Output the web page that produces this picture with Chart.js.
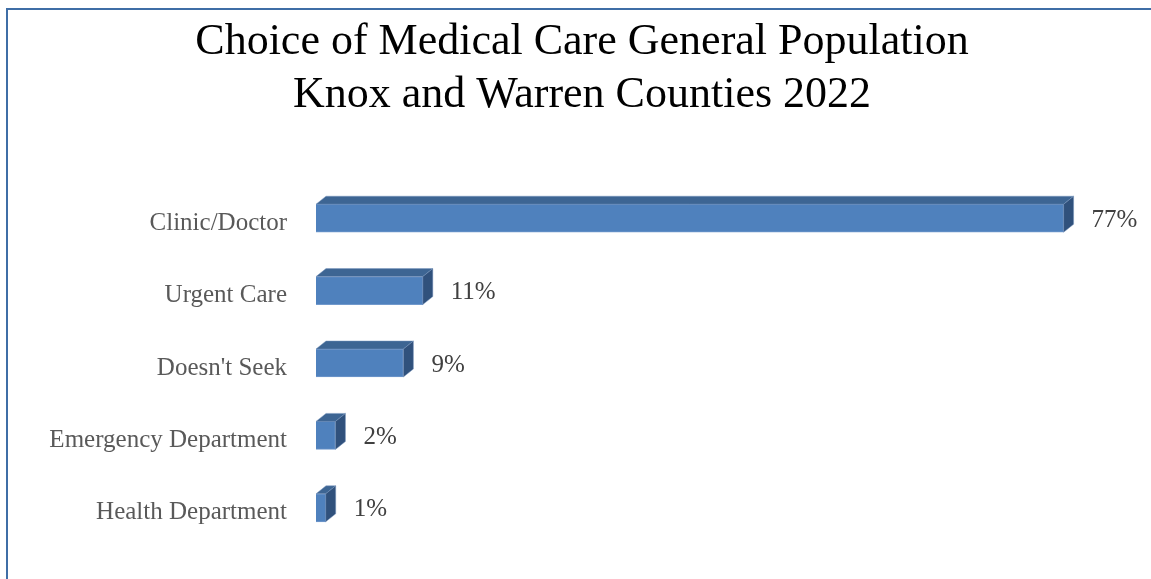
<!DOCTYPE html>
<html>
<head>
<meta charset="utf-8">
<script src="https://cdn.jsdelivr.net/npm/chart.js@4/dist/chart.umd.min.js"></script>
<style>
  html, body { margin: 0; padding: 0; background: #fff; }
  #wrap { position: relative; width: 1151px; height: 579px; }
</style>
</head>
<body>
<div id="wrap"><canvas id="c" width="1151" height="579"></canvas></div>
<script>
// Chart data
const titleLines = ['Choice of Medical Care General Population', 'Knox and Warren Counties 2022'];
const categories = ['Clinic/Doctor', 'Urgent Care', "Doesn't Seek", 'Emergency Department', 'Health Department'];
const shares = [77, 11, 9, 2, 1];
const shareLabels = ['77%', '11%', '9%', '2%', '1%'];

// 3D look: depth of the bar top/side faces
const DEPTH_X = 10;
const DEPTH_Y = 8;

// White background, blue frame and the two-line title
const frameAndTitle = {
  id: 'frameAndTitle',
  beforeDraw(chart) {
    const ctx = chart.ctx;
    ctx.save();
    ctx.fillStyle = '#ffffff';
    ctx.fillRect(0, 0, chart.width, chart.height);
    ctx.strokeStyle = '#3f6ea6';
    ctx.lineWidth = 2;
    ctx.strokeRect(7, 9, 1400, 900);
    ctx.fillStyle = '#000000';
    ctx.font = '44px "Liberation Serif"';
    ctx.textAlign = 'center';
    ctx.textBaseline = 'alphabetic';
    ctx.fillText(titleLines[0], 582, 54);
    ctx.fillText(titleLines[1], 582, 107);
    ctx.restore();
  }
};

const bars3d = {
  id: 'bars3d',
  afterDatasetsDraw(chart) {
    const ctx = chart.ctx;
    const meta = chart.getDatasetMeta(0);
    ctx.save();
    meta.data.forEach((bar, i) => {
      const p = bar.getProps(['x', 'y', 'base', 'height'], true);
      const x0 = p.base, x1 = p.x;
      const top = p.y - p.height / 2, bottom = p.y + p.height / 2;
      // top face
      ctx.beginPath();
      ctx.moveTo(x0, top);
      ctx.lineTo(x0 + DEPTH_X, top - DEPTH_Y);
      ctx.lineTo(x1 + DEPTH_X, top - DEPTH_Y);
      ctx.lineTo(x1, top);
      ctx.closePath();
      ctx.fillStyle = '#3d6593';
      ctx.fill();
      ctx.strokeStyle = 'rgba(120,150,190,0.6)';
      ctx.lineWidth = 0.8;
      ctx.stroke();
      // side face
      ctx.beginPath();
      ctx.moveTo(x1, top);
      ctx.lineTo(x1 + DEPTH_X, top - DEPTH_Y);
      ctx.lineTo(x1 + DEPTH_X, bottom - DEPTH_Y);
      ctx.lineTo(x1, bottom);
      ctx.closePath();
      ctx.fillStyle = '#30517c';
      ctx.fill();
      ctx.stroke();
      // value label
      ctx.fillStyle = '#404040';
      ctx.font = '25px "Liberation Serif"';
      ctx.textAlign = 'left';
      ctx.textBaseline = 'middle';
      ctx.fillText(shareLabels[i], x1 + DEPTH_X + 18, p.y + 2);
    });
    ctx.restore();
  }
};

new Chart(document.getElementById('c'), {
  type: 'bar',
  data: {
    labels: categories,
    datasets: [{
      data: shares,
      backgroundColor: '#4f81bd',
      borderColor: '#7199cc',
      borderWidth: 1,
      barThickness: 28
    }]
  },
  plugins: [frameAndTitle, bars3d],
  options: {
    indexAxis: 'y',
    responsive: false,
    animation: false,
    layout: { padding: { left: 0, right: 0, top: 182, bottom: 35 } },
    plugins: {
      legend: { display: false },
      tooltip: { enabled: false },
      title: { display: false }
    },
    scales: {
      x: { display: false, min: 0, max: 86 },
      y: {
        grid: { display: false, drawTicks: false },
        border: { display: false },
        ticks: {
          color: '#595959',
          padding: 29,
          labelOffset: 5,
          font: { family: '"Liberation Serif"', size: 25 }
        },
        afterFit(scale) {
          scale.width = 316;
          // the label gap should not eat into the plot height
          scale.paddingTop = 0;
          scale.paddingBottom = 0;
        }
      }
    }
  }
});
</script>
</body>
</html>
